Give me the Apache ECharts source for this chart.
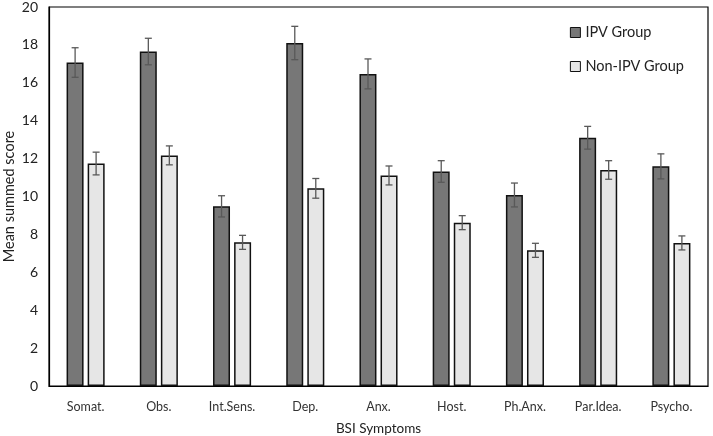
<!DOCTYPE html>
<html><head><meta charset="utf-8">
<script src="https://cdn.jsdelivr.net/npm/echarts@6/dist/echarts.min.js"></script>
<style>html,body{margin:0;padding:0;background:#fff}#c{width:713px;height:436px}</style>
</head><body><div id="c"></div>
<script>
const categories = ['Somat.','Obs.','Int.Sens.','Dep.','Anx.','Host.','Ph.Anx.','Par.Idea.','Psycho.'];
const ipvMean = [17.07,17.65,9.48,18.1,16.47,11.32,10.08,13.1,11.59];
const ipvErr = [0.78,0.7,0.56,0.88,0.79,0.57,0.63,0.6,0.66];
const nonMean = [11.74,12.17,7.58,10.43,11.11,8.62,7.16,11.4,7.55];
const nonErr = [0.6,0.5,0.37,0.52,0.5,0.37,0.37,0.49,0.37];
const yTicks = {min:0,max:20,interval:2};

const FONT = 'Lato';
const chart = echarts.init(document.getElementById('c'));
function errSeries(means, errs, offset){
  return {
    type:'custom', z:10, silent:true,
    data: means.map((m,i)=>[i,m,errs[i]]),
    renderItem: function(params, api){
      const i = api.value(0), m = api.value(1), e = api.value(2);
      const hi = api.coord([i, m+e]), lo = api.coord([i, m-e]);
      const x = hi[0] + offset, cap = 3.5;
      const st = {stroke:'#595959', lineWidth:1.3};
      return {type:'group', children:[
        {type:'line', shape:{x1:x,y1:hi[1],x2:x,y2:lo[1]}, style:st},
        {type:'line', shape:{x1:x-cap,y1:hi[1],x2:x+cap,y2:hi[1]}, style:st},
        {type:'line', shape:{x1:x-cap,y1:lo[1],x2:x+cap,y2:lo[1]}, style:st}
      ]};
    }
  };
}
chart.setOption({
  animation:false,
  textStyle:{fontFamily:FONT},
  grid:{left:49,right:5,top:7,bottom:50,show:true,borderColor:'#000',borderWidth:1.2,backgroundColor:'transparent',
        containLabel:false, outerBoundsMode:'none'},
  legend:{
    orient:'vertical', right:24, top:20, itemGap:19, itemWidth:10, itemHeight:10, icon:'rect',
    itemStyle:{borderColor:'#111',borderWidth:1},
    textStyle:{fontFamily:FONT,fontSize:14.5,color:'#222'},
    data:['IPV Group','Non-IPV Group']
  },
  xAxis:{
    type:'category', data:categories,
    axisLine:{lineStyle:{color:'#000',width:1.2}}, axisTick:{show:false},
    axisLabel:{fontFamily:FONT,fontSize:12.5,color:'#333',margin:14},
    name:'BSI Symptoms', nameLocation:'middle', nameGap:36, nameMoveOverlap:false,
    nameTextStyle:{fontFamily:FONT,fontSize:13.5,color:'#222'}
  },
  yAxis:{
    type:'value', min:yTicks.min, max:yTicks.max, interval:yTicks.interval,
    splitLine:{show:false}, axisLine:{show:true,lineStyle:{color:'#000',width:1.2}}, axisTick:{show:false},
    axisLabel:{fontFamily:FONT,fontSize:14,color:'#222',margin:11},
    name:'Mean summed score', nameLocation:'middle', nameGap:32, nameMoveOverlap:false,
    nameTextStyle:{fontFamily:FONT,fontSize:14.5,color:'#222'}
  },
  series:[
    {name:'IPV Group', type:'bar', data:ipvMean, barWidth:17, barGap:'24%',
     itemStyle:{color:'#777777',borderColor:'#111',borderWidth:1.5}},
    {name:'Non-IPV Group', type:'bar', data:nonMean, barWidth:17,
     itemStyle:{color:'#e6e6e6',borderColor:'#111',borderWidth:1.5}},
    errSeries(ipvMean, ipvErr, -10.5),
    errSeries(nonMean, nonErr, 10.5)
  ]
});
</script></body></html>
